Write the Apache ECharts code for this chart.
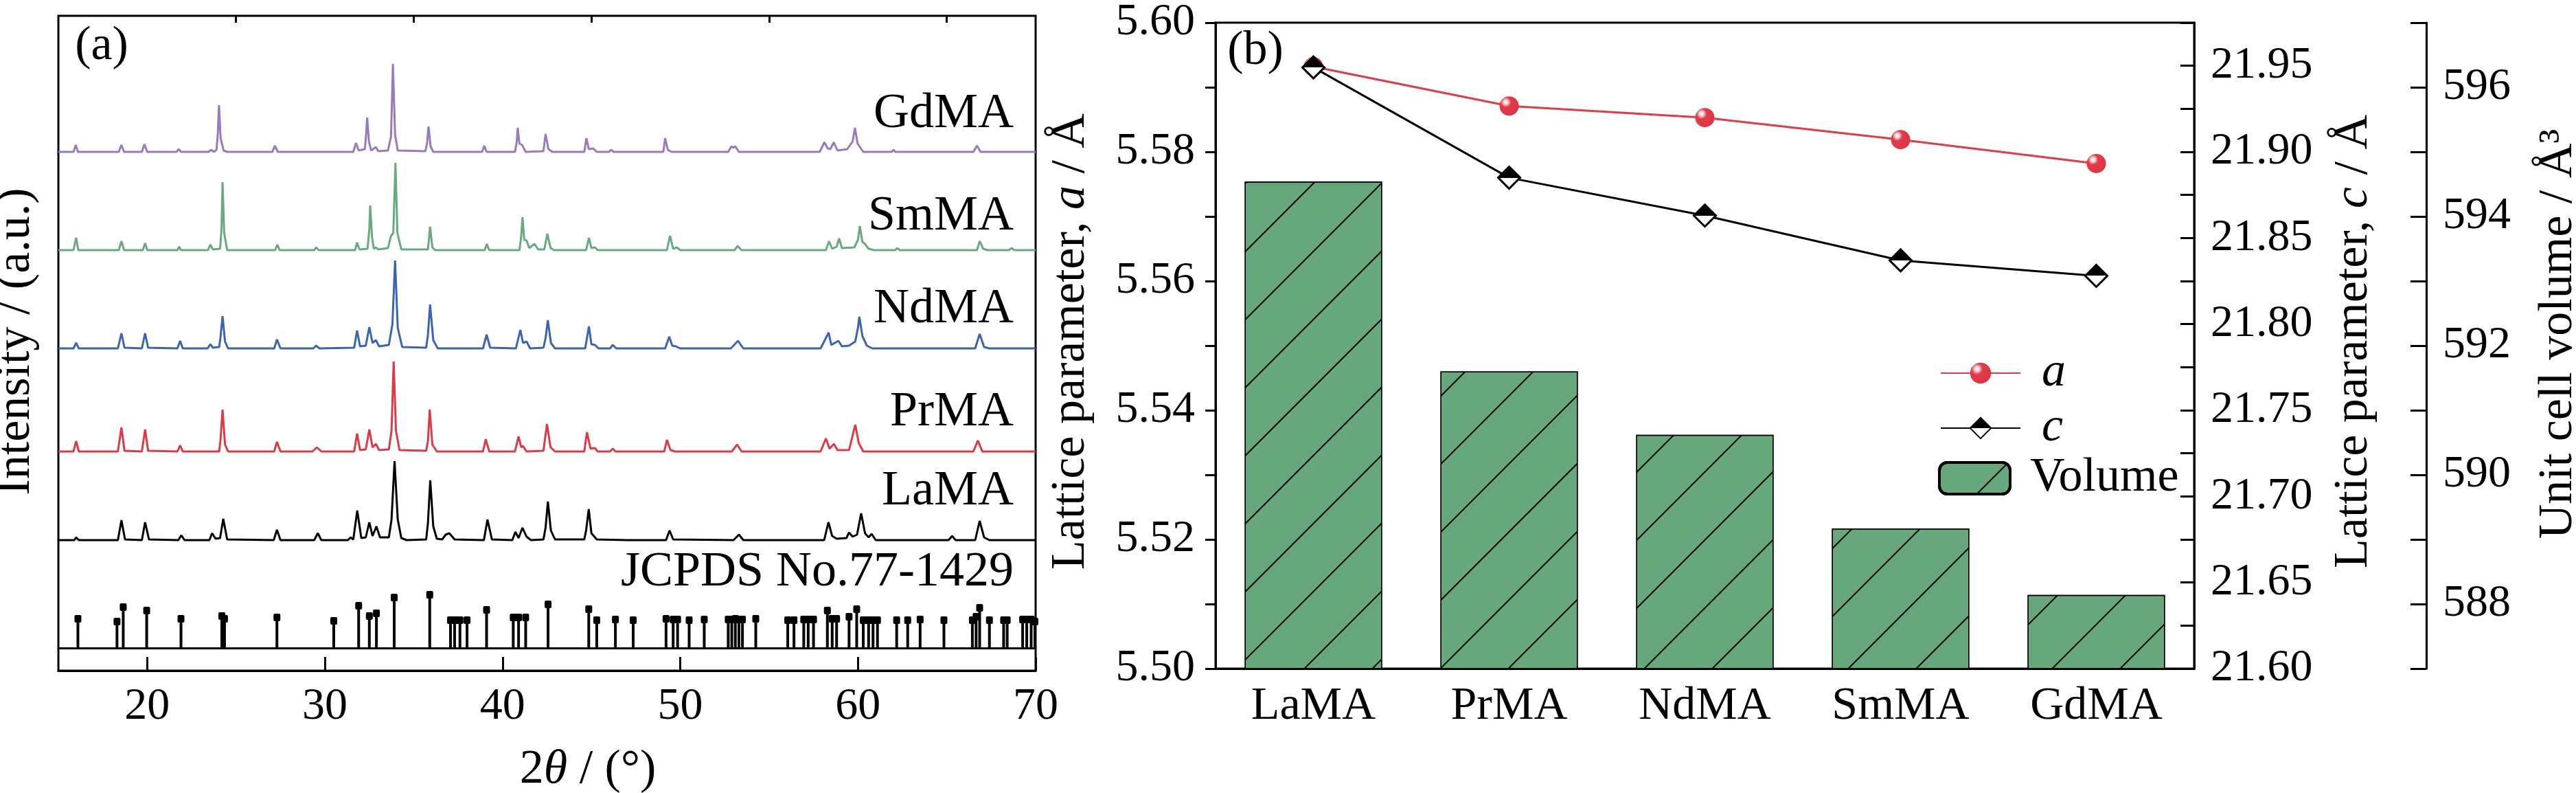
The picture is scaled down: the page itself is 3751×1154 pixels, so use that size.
<!DOCTYPE html>
<html>
<head>
<meta charset="utf-8">
<script src="https://cdn.jsdelivr.net/npm/echarts@6/dist/echarts.min.js"></script>
<style>
html,body{margin:0;padding:0;background:#fff;}
#chart{width:3751px;height:1154px;}
</style>
</head>
<body>
<div id="chart"></div>
<script>
// ---------------- Panel (a): XRD patterns, [2theta, intensity above own baseline] ----------------
const laMA = [[15.0,0],[15.9,0],[16.0,4],[16.15,0],[18.35,0],[18.55,29],[18.75,1],[19.7,0],[19.88,26],[20.1,1],
 [21.75,0],[21.92,7],[22.1,0],[23.5,0],[23.65,10],[23.85,2],[24.1,3],[24.28,31],[24.5,1],[27.12,0],[27.3,15],[27.5,0],
 [29.4,0],[29.6,10],[29.8,0],[31.3,0],[31.45,4],[31.6,1],[31.82,43],[32.05,3],[32.3,4],[32.5,26],[32.68,6],[32.9,20],[33.1,4],
 [33.6,4],[33.75,30],[33.92,115],[34.1,30],[34.3,3],[34.6,0],[35.7,1],[35.8,25],[35.93,87],[36.1,20],[36.3,2],[36.6,1],
 [36.8,8],[37.0,10],[37.3,1],[38.95,0],[39.15,30],[39.4,1],[40.55,0],[40.72,12],[40.9,3],[41.12,18],[41.35,5],[41.6,0],
 [42.3,1],[42.42,18],[42.55,56],[42.72,14],[42.95,1],[44.6,1],[44.7,14],[44.85,45],[45.0,10],[45.3,1],[47.0,0],
 [49.2,0],[49.4,14],[49.6,1],[53.0,0],[53.3,8],[53.55,0],[58.1,0],[58.34,26],[58.55,6],[58.8,2],[59.35,3],[59.5,11],
 [59.7,5],[59.95,8],[60.18,39],[60.4,10],[60.6,4],[60.77,9],[61.0,0],[65.1,0],[65.3,6],[65.5,0],[66.6,0],[66.85,28],
 [67.1,4],[67.4,0],[70,0]];
const prMA = [[15,0],[15.85,0],[16.0,15],[16.15,0],[18.35,0],[18.55,35],[18.72,1],[19.7,0],[19.88,32],[20.05,1],
 [21.7,0],[21.85,9],[22.0,0],[24.05,0],[24.12,15],[24.24,61],[24.38,10],[24.55,0],[27.15,0],[27.3,14],[27.5,0],
 [29.3,0],[29.55,6],[29.8,0],[31.65,0],[31.81,26],[31.98,2],[32.3,3],[32.5,32],[32.68,6],[32.87,11],[33.05,2],
 [33.6,3],[33.75,30],[33.87,131],[34.0,30],[34.2,2],[35.7,1],[35.8,15],[35.9,61],[36.05,10],[36.3,0],
 [38.9,0],[39.05,18],[39.25,0],[40.7,0],[40.9,22],[41.05,6],[41.15,8],[41.35,0],[42.3,1],[42.5,40],[42.7,6],[42.95,0],
 [44.6,0],[44.75,28],[44.95,4],[45.2,5],[45.35,0],[46.05,0],[46.2,4],[46.35,0],[49.1,0],[49.25,17],[49.45,2],[49.7,0],
 [52.9,0],[53.2,10],[53.45,0],[57.9,0],[58.2,19],[58.4,4],[58.65,11],[58.85,2],[59.5,2],[59.85,39],[60.05,12],[60.3,0],
 [66.5,0],[66.75,16],[67.0,0],[70,0]];
const ndMA = [[15,0],[15.85,0],[16.0,8],[16.15,0],[18.35,0],[18.55,22],[18.72,1],[19.7,0],[19.88,22],[20.05,1],
 [21.7,0],[21.85,11],[22.0,0],[23.4,0],[23.55,6],[23.7,1],[24.05,2],[24.12,15],[24.24,47],[24.38,10],[24.55,0],
 [27.15,0],[27.3,13],[27.5,0],[29.35,0],[29.5,4],[29.7,0],[31.65,1],[31.81,26],[31.98,3],[32.3,4],[32.5,31],[32.68,8],
 [32.87,12],[33.05,3],[33.6,5],[33.8,35],[33.95,128],[34.1,30],[34.35,2],[35.7,1],[35.8,20],[35.92,64],[36.1,12],[36.35,0],
 [38.9,0],[39.1,20],[39.3,1],[40.75,0],[41.0,27],[41.15,8],[41.35,10],[41.55,0],[42.3,1],[42.42,15],[42.55,41],[42.72,8],
 [42.95,0],[44.65,0],[44.86,32],[45.0,6],[45.2,5],[45.4,0],[46.05,0],[46.2,5],[46.4,0],[49.15,0],[49.38,17],[49.55,4],
 [49.75,3],[50.0,0],[52.85,0],[53.25,11],[53.55,0],[57.9,0],[58.35,23],[58.5,5],[58.9,11],[59.1,3],[59.5,4],[59.85,10],
 [60.0,30],[60.08,46],[60.25,18],[60.5,4],[60.8,0],[66.6,0],[66.85,21],[67.1,2],[67.4,0],[70,0]];
const smMA = [[15,0],[15.85,0],[16.0,18],[16.12,0],[18.4,0],[18.55,13],[18.7,0],[19.75,0],[19.88,10],[20.0,0],
 [21.7,0],[21.8,5],[21.9,0],[23.42,0],[23.55,8],[23.7,1],[24.1,2],[24.18,30],[24.24,99],[24.33,25],[24.5,0],
 [27.2,0],[27.32,8],[27.45,0],[29.4,0],[29.5,4],[29.65,0],[31.7,0],[31.81,11],[31.95,1],[32.4,2],[32.5,30],[32.55,65],
 [32.65,20],[32.75,2],[32.87,4],[33.0,1],[33.55,3],[33.71,20],[33.85,25],[33.97,127],[34.08,25],[34.3,1],
 [35.8,1],[35.92,34],[36.05,4],[36.2,0],[39.0,0],[39.11,9],[39.25,0],[40.95,0],[41.05,20],[41.12,48],[41.22,15],
 [41.35,14],[41.5,3],[41.8,9],[42.0,1],[42.35,1],[42.52,24],[42.7,3],[42.9,0],[44.7,0],[44.86,18],[45.0,3],[45.2,4],
 [45.35,0],[49.25,0],[49.42,21],[49.6,2],[49.8,4],[50.0,0],[53.05,0],[53.23,6],[53.45,0],[58.2,0],[58.37,13],[58.55,2],
 [58.8,5],[58.94,17],[59.1,3],[59.8,4],[60.0,15],[60.11,35],[60.25,12],[60.4,9],[60.6,2],[60.9,0],[62.1,0],[62.2,3],
 [62.35,0],[66.7,0],[66.85,13],[67.05,2],[67.3,0],[68.5,0],[68.65,3],[68.8,0],[70,0]];
const gdMA = [[15,0],[15.85,0],[15.98,10],[16.1,0],[18.4,0],[18.55,10],[18.7,0],[19.7,0],[19.84,11],[20.0,0],
 [21.65,0],[21.78,4],[21.9,0],[23.45,0],[23.6,3],[23.75,0],[23.9,3],[23.97,25],[24.04,68],[24.13,20],[24.3,2],[24.5,0],
 [27.05,0],[27.18,9],[27.35,0],[31.6,0],[31.75,13],[31.9,2],[32.25,4],[32.32,25],[32.38,50],[32.48,15],[32.6,2],
 [32.87,7],[33.0,1],[33.55,2],[33.72,22],[33.83,128],[33.95,25],[34.1,2],[35.65,1],[35.75,12],[35.83,37],[35.95,8],
 [36.1,0],[38.85,0],[38.97,9],[39.1,0],[40.7,0],[40.8,15],[40.85,35],[40.95,12],[41.1,10],[41.3,0],[42.3,1],[42.42,26],
 [42.58,4],[42.8,0],[44.6,0],[44.72,20],[44.85,4],[45.1,5],[45.3,0],[46.0,0],[46.1,3],[46.25,0],[49.05,0],[49.15,20],
 [49.3,3],[49.5,0],[52.7,0],[52.88,8],[53.0,6],[53.1,8],[53.3,0],[57.85,0],[58.11,14],[58.3,5],[58.45,4],[58.64,14],
 [58.85,2],[59.4,4],[59.7,15],[59.83,35],[59.98,12],[60.3,0],[61.9,0],[62.0,3],[62.1,0],[66.5,0],[66.7,9],[66.9,0],[70,0]];
// JCPDS No.77-1429 reference lines [2theta, relative height]
const jcpds = [[16.1,42],[18.3,38],[18.65,59],[19.97,54],[21.9,42],[24.2,46],[24.35,42],[27.3,44],[30.5,39],[31.9,61],
 [32.5,46],[32.9,50],[33.9,73],[35.9,77],[37.07,40],[37.3,40],[37.6,40],[38.0,40],[39.1,55],[40.6,44],[40.9,44],[41.3,44],
 [42.56,63],[44.85,56],[45.3,40],[46.35,41],[47.35,40],[49.2,42],[49.6,41],[49.85,41],[50.5,40],[51.35,41],[52.7,41],
 [52.9,41],[53.1,42],[53.3,41],[53.5,41],[54.25,42],[56.05,40],[56.4,40],[56.95,41],[57.2,41],[57.5,41],[58.28,54],
 [58.55,42],[58.8,42],[59.5,45],[59.93,56],[60.3,40],[60.6,40],[60.85,40],[61.1,40],[62.18,40],[62.8,40],[63.5,41],
 [64.84,40],[66.44,40],[66.65,45],[66.85,58],[67.4,40],[68.2,40],[68.4,40],[69.27,41],[69.5,41],[69.75,41],[69.96,38]];
const xTicks = [20, 30, 40, 50, 60, 70];
const xMinorTicks = [25, 35, 45, 55, 65];
// stacking offsets of panel (a) patterns (display offsets)
const OFF = {stick: 33, LaMA: 190, PrMA: 319, NdMA: 469, SmMA: 612, GdMA: 755};

// ---------------- Panel (b): lattice parameters ----------------
const categories = ['LaMA', 'PrMA', 'NdMA', 'SmMA', 'GdMA'];
const aValues = [5.5932, 5.5871, 5.5853, 5.5819, 5.5782];
const cValues = [21.949, 21.885, 21.863, 21.837, 21.828];
const volValues = [594.54, 591.60, 590.62, 589.17, 588.14];

const FONT = 'Liberation Serif';
const chart = echarts.init(document.getElementById('chart'), null, {renderer: 'canvas', devicePixelRatio: 1});

function shift(arr, off) { return arr.map(p => [p[0], p[1] + off]); }
function xrdLine(name, arr, off, color) {
  return {type: 'line', name: name, xAxisIndex: 0, yAxisIndex: 0, data: shift(arr, off),
    showSymbol: false, symbol: 'none', lineStyle: {color: color, width: 3}, itemStyle: {color: color},
    animation: false, silent: true, z: 3};
}

const ballColor = new echarts.graphic.RadialGradient(0.33, 0.3, 0.7, [
  {offset: 0, color: '#ffffff'}, {offset: 0.12, color: '#fde6e7'}, {offset: 0.26, color: '#f08e95'},
  {offset: 0.38, color: '#e23b48'}, {offset: 1, color: '#dc3744'}]);
const diamondColor = new echarts.graphic.LinearGradient(0, 0, 0, 1, [
  {offset: 0, color: '#000'}, {offset: 0.5, color: '#000'}, {offset: 0.5, color: '#fff'}, {offset: 1, color: '#fff'}]);

const labelStyle = {fontFamily: FONT, fontSize: 66, color: '#000'};
const legendText = {fontFamily: FONT, fontSize: 70, color: '#000'};

const option = {
  backgroundColor: '#fff',
  animation: false,
  grid: [
    {left: 85, top: 23, width: 1423, height: 953, show: true, borderColor: '#000', borderWidth: 3, backgroundColor: 'transparent'},
    {left: 1770, top: 23, width: 1425, height: 950, show: true, borderColor: '#000', borderWidth: 3, backgroundColor: 'transparent'}
  ],
  xAxis: [
    {type: 'value', gridIndex: 0, min: 15, max: 70, splitLine: {show: false},
     axisLine: {show: true, lineStyle: {color: '#000', width: 3}},
     axisTick: {show: true, inside: true, length: 20, customValues: xTicks, lineStyle: {color: '#000', width: 3}},
     axisLabel: {show: true, customValues: xTicks, margin: 20, ...labelStyle}},
    {type: 'value', gridIndex: 0, min: 15, max: 70, splitLine: {show: false},
     axisLine: {show: false},
     axisTick: {show: true, inside: true, length: 10, customValues: xMinorTicks, lineStyle: {color: '#000', width: 3}},
     axisLabel: {show: false}},
    {type: 'category', gridIndex: 1, data: categories, boundaryGap: true,
     axisLine: {show: true, lineStyle: {color: '#000', width: 3}},
     axisTick: {show: false},
     axisLabel: {margin: 21, fontFamily: FONT, fontSize: 68, color: '#000'}}
  ],
  yAxis: [
    {type: 'value', gridIndex: 0, min: 0, max: 953, axisLine: {show: false}, axisTick: {show: false},
     axisLabel: {show: false}, splitLine: {show: false}},
    {type: 'value', gridIndex: 1, position: 'left', min: 5.50, max: 5.60, interval: 0.01, splitLine: {show: false},
     axisLine: {show: true, lineStyle: {color: '#000', width: 3}},
     axisTick: {show: true, inside: false, length: 15, lineStyle: {color: '#000', width: 3}},
     axisLabel: {margin: 30, ...labelStyle, formatter: (v, i) => (i % 2 === 0 ? v.toFixed(2) : '')}},
    {type: 'value', gridIndex: 1, position: 'right', offset: 0, min: 21.60, max: 21.975, interval: 0.025, splitLine: {show: false},
     axisLine: {show: true, lineStyle: {color: '#000', width: 3}},
     axisTick: {show: true, inside: true, length: 20, lineStyle: {color: '#000', width: 3}},
     axisLabel: {margin: 24, ...labelStyle, formatter: (v, i) => (i % 2 === 0 && i < 15 ? v.toFixed(2) : '')}},
    {type: 'value', gridIndex: 1, position: 'right', offset: 338, min: 587, max: 597, interval: 1, splitLine: {show: false},
     axisLine: {show: true, lineStyle: {color: '#000', width: 3}},
     axisTick: {show: true, inside: true, length: 23, lineStyle: {color: '#000', width: 3}},
     axisLabel: {margin: 24, ...labelStyle, formatter: (v) => (Math.round(v) % 2 === 0 ? String(Math.round(v)) : '')}}
  ],
  legend: [
    {data: ['a'], left: 2825, top: 508, itemWidth: 116, itemHeight: 38, padding: 0, selectedMode: false,
     textStyle: {...legendText, fontStyle: 'italic', padding: [0, 0, 0, 26]}},
    {data: ['c'], left: 2825, top: 588, itemWidth: 116, itemHeight: 38, padding: 0, selectedMode: false,
     textStyle: {...legendText, fontStyle: 'italic', padding: [0, 0, 0, 26]}},
    {data: ['Volume'], left: 2822, top: 661, itemWidth: 103, itemHeight: 46, padding: 0, selectedMode: false,
     itemStyle: {borderColor: '#000', borderWidth: 4},
     textStyle: {...legendText, padding: [0, 0, 0, 24]}}
  ],
  series: [
    xrdLine('LaMA', laMA, OFF.LaMA, '#000000'),
    xrdLine('PrMA', prMA, OFF.PrMA, '#de3a46'),
    xrdLine('NdMA', ndMA, OFF.NdMA, '#3b64b4'),
    xrdLine('SmMA', smMA, OFF.SmMA, '#68aa7d'),
    xrdLine('GdMA', gdMA, OFF.GdMA, '#997aba'),
    {type: 'custom', name: 'JCPDS', xAxisIndex: 0, yAxisIndex: 0, data: jcpds, encode: {x: 0, y: 1}, silent: true, z: 3,
     renderItem: function (params, api) {
       const x = api.value(0), h = api.value(1);
       const p0 = api.coord([x, OFF.stick]);
       const p1 = api.coord([x, OFF.stick + h]);
       return {type: 'group', children: [
         {type: 'line', shape: {x1: p0[0], y1: p0[1], x2: p1[0], y2: p1[1]}, style: {stroke: '#000', lineWidth: 4}},
         {type: 'rect', shape: {x: p1[0] - 5, y: p1[1] - 6, width: 10, height: 11, r: 2}, style: {fill: '#000'}}
       ]};
     },
     markLine: {silent: true, symbol: 'none', label: {show: false},
       lineStyle: {color: '#000', width: 3, type: 'solid'}, data: [{yAxis: OFF.stick}]}},
    {type: 'bar', name: 'Volume', xAxisIndex: 2, yAxisIndex: 3, data: volValues, barWidth: 200, z: 2,
     itemStyle: {color: '#66a87b', borderColor: '#000', borderWidth: 1.5,
       decal: {symbol: 'rect', symbolSize: 1, color: '#000', dashArrayX: [1, 0], dashArrayY: [2, 68], rotation: -Math.PI / 4}}},
    {type: 'line', name: 'a', xAxisIndex: 2, yAxisIndex: 1, data: aValues, symbol: 'circle', symbolSize: 28, z: 5,
     lineStyle: {color: '#e23b48', width: 3}, itemStyle: {color: ballColor, borderWidth: 0}},
    {type: 'line', name: 'c', xAxisIndex: 2, yAxisIndex: 2, data: cValues, symbol: 'diamond', symbolSize: 32, z: 6,
     lineStyle: {color: '#000', width: 3}, itemStyle: {color: diamondColor, borderColor: '#000', borderWidth: 3}}
  ],
  graphic: [
    {type: 'text', x: 148, y: 68, style: {text: '(a)', fontFamily: FONT, fontSize: 70, fill: '#000', align: 'center', verticalAlign: 'middle'}},
    {type: 'text', x: 1828, y: 75, style: {text: '(b)', fontFamily: FONT, fontSize: 70, fill: '#000', align: 'center', verticalAlign: 'middle'}},
    {type: 'text', x: 1476, y: 166, style: {text: 'GdMA', fontFamily: FONT, fontSize: 72, fill: '#000', align: 'right', verticalAlign: 'middle'}},
    {type: 'text', x: 1476, y: 315, style: {text: 'SmMA', fontFamily: FONT, fontSize: 72, fill: '#000', align: 'right', verticalAlign: 'middle'}},
    {type: 'text', x: 1476, y: 450, style: {text: 'NdMA', fontFamily: FONT, fontSize: 72, fill: '#000', align: 'right', verticalAlign: 'middle'}},
    {type: 'text', x: 1476, y: 600, style: {text: 'PrMA', fontFamily: FONT, fontSize: 72, fill: '#000', align: 'right', verticalAlign: 'middle'}},
    {type: 'text', x: 1476, y: 715, style: {text: 'LaMA', fontFamily: FONT, fontSize: 72, fill: '#000', align: 'right', verticalAlign: 'middle'}},
    {type: 'text', x: 1476, y: 833, style: {text: 'JCPDS No.77-1429', fontFamily: FONT, fontSize: 72, fill: '#000', align: 'right', verticalAlign: 'middle'}},
    {type: 'text', x: 24, y: 497, rotation: Math.PI / 2,
     style: {text: 'Intensity / (a.u.)', fontFamily: FONT, fontSize: 70, fill: '#000', align: 'center', verticalAlign: 'middle'}},
    {type: 'text', x: 856, y: 1121,
     style: {text: '{n|2}{i|θ}{n| / (°)}', align: 'center', verticalAlign: 'middle',
       rich: {n: {fontFamily: FONT, fontSize: 70, fill: '#000'}, i: {fontFamily: FONT, fontSize: 70, fontStyle: 'italic', fill: '#000'}}}},
    {type: 'text', x: 1560, y: 497, rotation: Math.PI / 2,
     style: {text: '{n|Lattice parameter, }{i|a}{n| / Å}', align: 'center', verticalAlign: 'middle',
       rich: {n: {fontFamily: FONT, fontSize: 70, fill: '#000'}, i: {fontFamily: FONT, fontSize: 70, fontStyle: 'italic', fill: '#000'}}}},
    {type: 'text', x: 3428, y: 497, rotation: Math.PI / 2,
     style: {text: '{n|Lattice parameter, }{i|c}{n| / Å}', align: 'center', verticalAlign: 'middle',
       rich: {n: {fontFamily: FONT, fontSize: 70, fill: '#000'}, i: {fontFamily: FONT, fontSize: 70, fontStyle: 'italic', fill: '#000'}}}},
    {type: 'text', x: 3726, y: 486, rotation: Math.PI / 2,
     style: {text: 'Unit cell volume / Å³', fontFamily: FONT, fontSize: 70, fill: '#000', align: 'center', verticalAlign: 'middle'}}
  ]
};
chart.setOption(option);
</script>
</body>
</html>
